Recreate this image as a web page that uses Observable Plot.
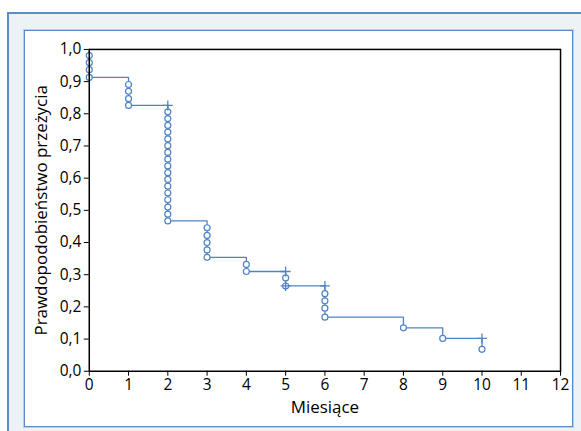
<!DOCTYPE html>
<html>
<head>
<meta charset="utf-8">
<script src="https://cdn.jsdelivr.net/npm/d3@7"></script>
<script src="https://cdn.jsdelivr.net/npm/@observablehq/plot@0.6"></script>
<style>
  html, body { margin: 0; padding: 0; background: #ffffff; width: 581px; height: 431px; overflow: hidden; }
  #outer { position: absolute; left: 7px; top: 12px; width: 590px; height: 440px; background: #edf2f7; border: 2px solid #5b8bc8; box-sizing: border-box; }
  #panel { position: absolute; left: 24px; top: 30px; width: 549px; height: 397px; background: #ffffff; border: 1.5px solid #5b8bc8; box-shadow: 0 0 0 1px #b9cde8; box-sizing: border-box; }
  #panel svg { position: absolute; left: 0; top: 0; }
</style>
</head>
<body>
<div id="outer"></div>
<div id="panel"></div>
<script>
// Step curve: time (months) and survival probability after each step
const stepTimes = [0, 0, 1, 2, 3, 4, 5, 6, 8, 9, 10];
const stepSurv  = [1.0, 0.913, 0.826, 0.467, 0.354, 0.310, 0.265, 0.168, 0.135, 0.102, 0.068];

// Open circles (events)
const eventTimes = [0, 0, 0, 0,
  1, 1, 1, 1,
  2, 2, 2, 2, 2, 2, 2, 2, 2, 2, 2, 2, 2, 2, 2, 2, 2,
  3, 3, 3, 3, 3,
  4, 4,
  5, 5,
  6, 6, 6, 6,
  8, 9, 10];
const eventSurv = [0.981, 0.959, 0.937, 0.913,
  0.891, 0.870, 0.847, 0.826,
  0.806, 0.785, 0.764, 0.743, 0.722, 0.701, 0.680, 0.659, 0.638, 0.617, 0.596, 0.575, 0.554, 0.533, 0.510, 0.488, 0.467,
  0.446, 0.422, 0.400, 0.377, 0.354,
  0.332, 0.310,
  0.290, 0.265,
  0.241, 0.219, 0.196, 0.168,
  0.135, 0.102, 0.068];

// Censor marks (+)
const censorTimes = [2, 5, 5, 6, 10];
const censorSurv  = [0.826, 0.310, 0.265, 0.265, 0.102];

// Axis ticks
const xTicks = [0, 1, 2, 3, 4, 5, 6, 7, 8, 9, 10, 11, 12];
const yTicks = [0, 0.1, 0.2, 0.3, 0.4, 0.5, 0.6, 0.7, 0.8, 0.9, 1.0];
const yTickLabels = ["0,0", "0,1", "0,2", "0,3", "0,4", "0,5", "0,6", "0,7", "0,8", "0,9", "1,0"];

const xLabel = "Miesiące";
const yLabel = "Prawdopodobieństwo przeżycia";

const blue = "#4f83c4";

const stepData = stepTimes.map((t, i) => ({t, s: stepSurv[i]}));
const eventData = eventTimes.map((t, i) => ({t, s: eventSurv[i]}));
const censorData = censorTimes.map((t, i) => ({t, s: censorSurv[i]}));

const chart = Plot.plot({
  width: 549,
  height: 397,
  marginLeft: 64,
  marginRight: 12,
  marginTop: 18,
  marginBottom: 56,
  style: { fontFamily: "'Open Sans', sans-serif", fontSize: "15.5px", color: "#000", background: "transparent" },
  x: { domain: [0, 12] },
  y: { domain: [0, 1] },
  marks: [
    Plot.axisX({ ticks: xTicks, tickSize: 5, tickPadding: 3, label: null, stroke: "#000", fill: "#000", fontSize: 15.5 }),
    Plot.axisX({ ticks: [], label: xLabel, labelAnchor: "center", labelArrow: "none", labelOffset: 42, fill: "#000", fontSize: 17 }),
    Plot.axisY({ ticks: yTicks, tickFormat: (d) => yTickLabels[yTicks.indexOf(d)], tickSize: 5, tickPadding: 3, label: null, stroke: "#000", fill: "#000", fontSize: 15.5 }),
    Plot.axisY({ ticks: [], label: yLabel, labelAnchor: "center", labelArrow: "none", labelOffset: 54, fill: "#000", fontSize: 17 }),
    Plot.line(stepData, { x: "t", y: "s", curve: "step-after", stroke: blue, strokeWidth: 1.3 }),
    Plot.dot(eventData, { x: "t", y: "s", r: 3, fill: "white", stroke: blue, strokeWidth: 1.2 }),
    Plot.dot(censorData, { x: "t", y: "s", symbol: "plus", r: 3.3, stroke: blue, strokeWidth: 1.3, fill: "none" }),
    Plot.frame({ stroke: "#000", strokeWidth: 1.5 })
  ]
});
document.getElementById("panel").appendChild(chart);
</script>
</body>
</html>
